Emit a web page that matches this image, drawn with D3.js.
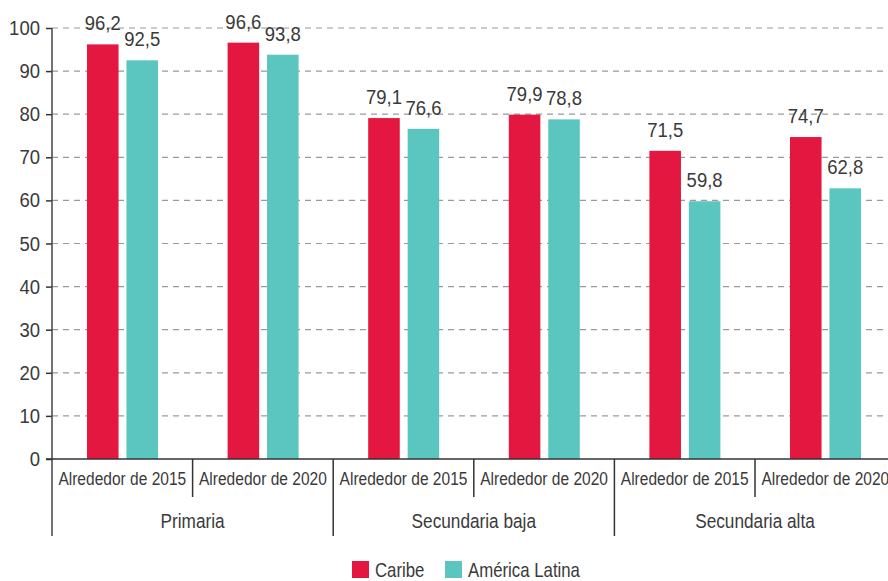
<!DOCTYPE html>
<html>
<head>
<meta charset="utf-8">
<script src="https://cdn.jsdelivr.net/npm/d3@7"></script>
<style>
  html, body { margin: 0; padding: 0; background: #fff; }
  svg { display: block; font-family: "Liberation Sans", Arial, sans-serif; }
</style>
</head>
<body>
<svg id="chart" width="888" height="581"></svg>
<script>
// Education levels and the two reference periods within each
const levels = ["Primaria", "Secundaria baja", "Secundaria alta"];
const periods = ["Alrededor de 2015", "Alrededor de 2020"];
const seriesNames = ["Caribe", "América Latina"];
const seriesColors = ["#E3173F", "#5BC5C0"];

// Rates per level × period (order: Primaria 2015, 2020, Sec. baja 2015, 2020, Sec. alta 2015, 2020)
const caribe = [96.2, 96.6, 79.1, 79.9, 71.5, 74.7];
const americaLatina = [92.5, 93.8, 76.6, 78.8, 59.8, 62.8];

const yTicks = [0, 10, 20, 30, 40, 50, 60, 70, 80, 90, 100];

(function draw() {
  const svg = d3.select("#chart");
  const W = 888;
  const plotLeft = 52, plotTop = 28, plotBottom = 459;
  const step = 140.6;
  const ink = "#3a3a3a";
  const NARROW = 0.84;   // horizontal squeeze for word labels (condensed look)
  const NUM = 0.95;      // slight squeeze for numerals

  // Condensed text helper: draws text at (x, y) squeezed horizontally
  function label(parent, x, y, str, size, sx, anchor) {
    return parent.append("text")
      .attr("transform", `translate(${x},${y}) scale(${sx},1)`)
      .attr("text-anchor", anchor || "middle")
      .attr("font-size", size)
      .attr("fill", ink)
      .text(str);
  }

  // Flat list of sub-categories
  const cells = [];
  levels.forEach((lv, i) => periods.forEach((p, j) => cells.push({ level: lv, period: p, key: lv + "|" + p, idx: i * 2 + j })));

  const x0 = d3.scaleBand().domain(cells.map(d => d.key)).range([plotLeft, plotLeft + step * cells.length]).padding(0);
  const x1 = d3.scaleBand().domain(seriesNames).range([35, 106]).paddingInner(0.2);
  const y = d3.scaleLinear().domain([0, 100]).range([plotBottom, plotTop]);

  const fmt = d3.formatLocale({ decimal: ",", thousands: ".", grouping: [3], currency: ["", ""] }).format(".1f");

  // Dashed gridlines
  svg.append("g")
    .selectAll("line")
    .data(yTicks.filter(t => t > 0))
    .join("line")
    .attr("x1", plotLeft).attr("x2", W)
    .attr("y1", d => y(d)).attr("y2", d => y(d))
    .attr("stroke", "#9a9a9a")
    .attr("stroke-width", 1.2)
    .attr("stroke-dasharray", "6,5");

  // Bars with value labels
  const series = [caribe, americaLatina];
  const barG = svg.append("g");
  cells.forEach(c => {
    seriesNames.forEach((s, si) => {
      const v = series[si][c.idx];
      barG.append("rect")
        .attr("x", x0(c.key) + x1(s))
        .attr("y", y(v))
        .attr("width", x1.bandwidth())
        .attr("height", y(0) - y(v))
        .attr("fill", seriesColors[si]);
      label(barG, x0(c.key) + x1(s) + x1.bandwidth() / 2, y(v) - 14, fmt(v), 19.5, NUM);
    });
  });

  // Y axis (ticks via d3.axisLeft, labels squeezed to match the condensed face)
  const yAxis = d3.axisLeft(y).tickValues(yTicks).tickSize(6).tickFormat(() => "");
  const yG = svg.append("g").attr("transform", `translate(${plotLeft},0)`).call(yAxis);
  yG.select(".domain").remove();
  yG.selectAll(".tick line").attr("stroke", "#333").attr("stroke-width", 1.5);
  yTicks.forEach(t => label(svg, plotLeft - 12, y(t) + 7, d3.format("d")(t), 19.5, NUM, "end"));

  // Vertical axis line extending down through the category rows
  svg.append("line")
    .attr("x1", plotLeft).attr("x2", plotLeft)
    .attr("y1", plotTop).attr("y2", 536)
    .attr("stroke", "#444").attr("stroke-width", 1.5);

  // Baseline
  svg.append("line")
    .attr("x1", plotLeft - 6).attr("x2", W)
    .attr("y1", plotBottom).attr("y2", plotBottom)
    .attr("stroke", "#333").attr("stroke-width", 1.6);

  // Period dividers and labels
  cells.forEach((c, i) => {
    const xs = x0(c.key);
    if (i > 0) {
      const major = i % 2 === 0;
      svg.append("line")
        .attr("x1", xs).attr("x2", xs)
        .attr("y1", plotBottom).attr("y2", major ? 536 : 497)
        .attr("stroke", "#333").attr("stroke-width", 1.5);
    }
    label(svg, xs + x0.bandwidth() / 2, 485, c.period, 18.5, NARROW);
  });

  // Level labels
  levels.forEach((lv, i) => {
    const xs = x0(cells[i * 2].key);
    label(svg, xs + x0.bandwidth(), 528, lv, 20.5, NARROW);
  });

  // Legend
  const legendPos = [352, 445];
  seriesNames.forEach((s, i) => {
    const g = svg.append("g").attr("transform", `translate(${legendPos[i]},561)`);
    g.append("rect").attr("width", 17).attr("height", 17).attr("fill", seriesColors[i]);
    label(g, 23, 16, s, 20, NARROW, "start");
  });
})();
</script>
</body>
</html>
